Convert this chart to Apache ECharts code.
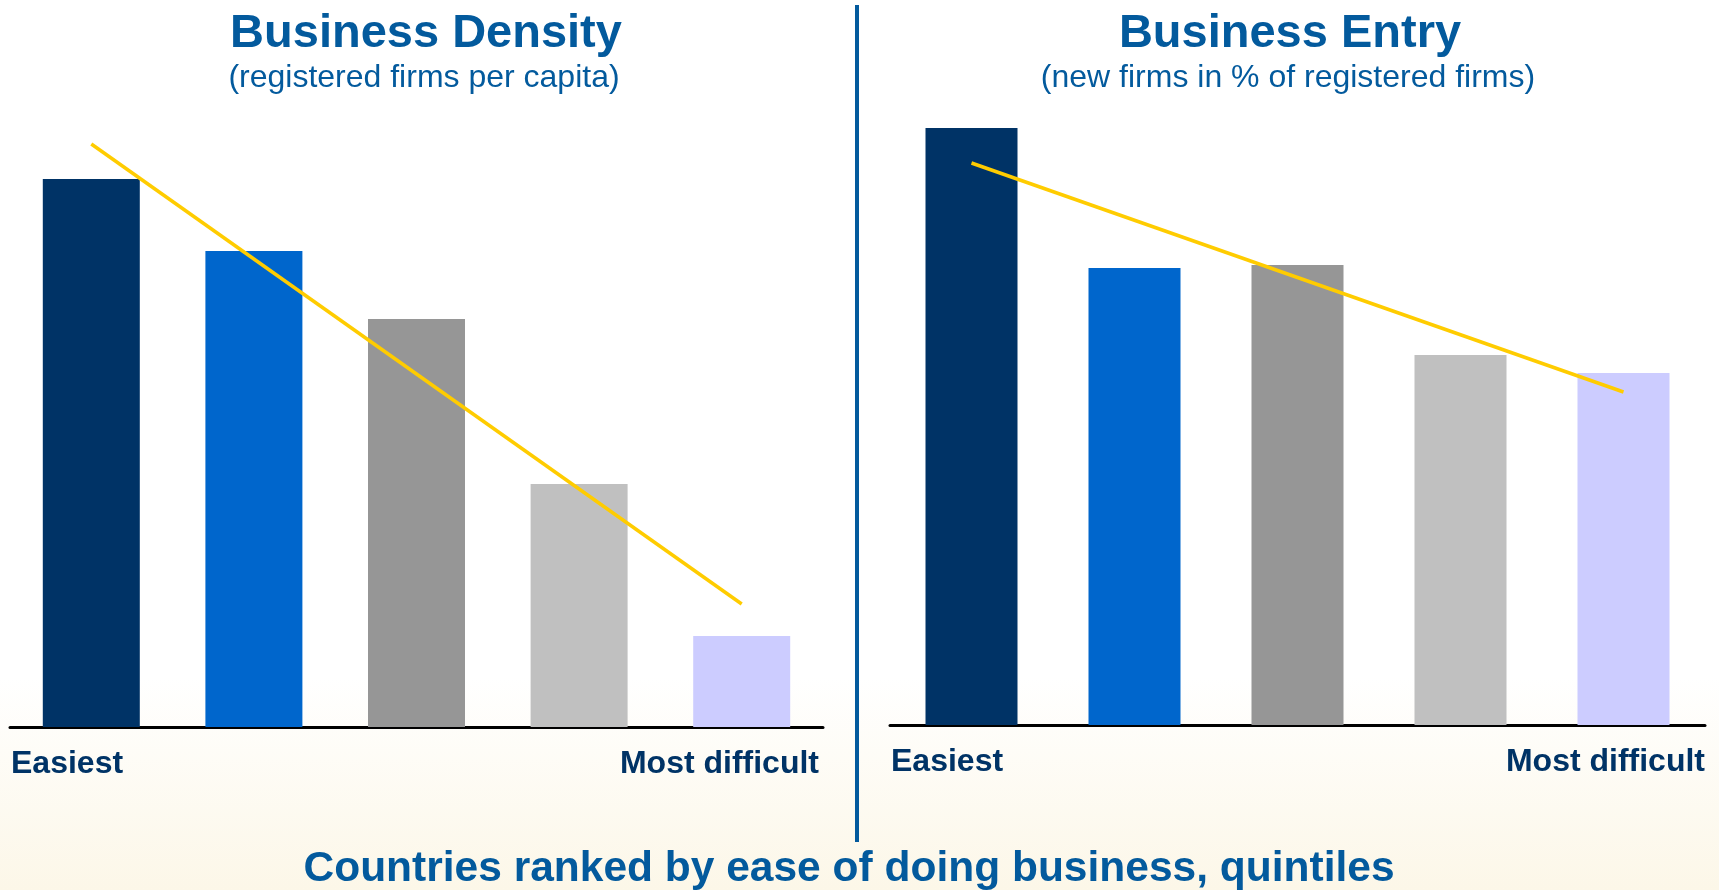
<!DOCTYPE html>
<html>
<head>
<meta charset="utf-8">
<script src="https://cdn.jsdelivr.net/npm/echarts@6/dist/echarts.min.js"></script>
<style>
html,body{margin:0;padding:0;width:1719px;height:890px;overflow:hidden;background:#fff;}
#chart{width:1719px;height:890px;}
</style>
</head>
<body>
<div id="chart"></div>
<script>
// ---- Data (relative index values) ----
const categories = ['Q1', 'Q2', 'Q3', 'Q4', 'Q5'];
const endLabels = ['Easiest', 'Most difficult'];
const densityValues = [548, 476, 408, 243, 91];
const densityTrend = [583, null, null, null, 123];
const entryValues = [597, 457, 460, 370, 352];
const entryTrend = [562, null, null, null, 333];
const barColors = ['#003366', '#0066CC', '#969696', '#C0C0C0', '#CCCCFF'];
const titles = ['Business Density', 'Business Entry'];
const subtitles = ['(registered firms per capita)', '(new firms in % of registered firms)'];
const bottomTitle = 'Countries ranked by ease of doing business, quintiles';

const FONT = '"Liberation Sans", Arial, sans-serif';
const BLUE = '#035A9D';
const NAVY = '#003366';

const chart = echarts.init(document.getElementById('chart'), null, {renderer: 'canvas'});

function mainXAxis(gridIndex) {
  return {
    type: 'category', gridIndex: gridIndex, position: 'bottom', data: categories,
    boundaryGap: true,
    axisLine: {show: true, lineStyle: {color: '#000', width: 3}},
    axisTick: {show: false}, axisLabel: {show: false}, splitLine: {show: false}
  };
}
function labelXAxis(gridIndex, rightPad) {
  return {
    type: 'category', gridIndex: gridIndex, position: 'bottom', boundaryGap: false,
    data: [
      {value: endLabels[0], textStyle: {align: 'left', padding: [0, 0, 0, 1]}},
      {value: endLabels[1], textStyle: {align: 'right', padding: [0, rightPad, 0, 0]}}
    ],
    axisLine: {show: false}, axisTick: {show: false}, splitLine: {show: false},
    axisLabel: {
      show: true, interval: 0, margin: 21, color: NAVY, fontSize: 32,
      fontWeight: 'bold', fontFamily: FONT, showMinLabel: true, showMaxLabel: true
    }
  };
}
function yAxis(gridIndex) {
  return {type: 'value', gridIndex: gridIndex, min: 0, max: 600, show: false, splitLine: {show: false}};
}
function barSeries(xi, yi, vals, width) {
  return {
    type: 'bar', xAxisIndex: xi, yAxisIndex: yi, data: vals, barWidth: width,
    itemStyle: {color: function (p) { return barColors[p.dataIndex]; }},
    animation: false
  };
}
function trendSeries(xi, yi, vals) {
  return {
    type: 'line', xAxisIndex: xi, yAxisIndex: yi, data: vals, connectNulls: true,
    symbol: 'none', lineStyle: {color: '#FFCC00', width: 3.5}, z: 5, animation: false
  };
}

const option = {
  animation: false,
  backgroundColor: new echarts.graphic.LinearGradient(0, 0, 0, 1, [
    {offset: 0, color: '#FFFFFF'},
    {offset: 0.76, color: '#FFFFFF'},
    {offset: 1, color: '#FCF7E8'}
  ]),
  title: [
    {text: titles[0], left: 426, top: 11, padding: 0, textAlign: 'center',
     textStyle: {color: BLUE, fontSize: 47, fontWeight: 'bold', fontFamily: FONT}},
    {text: subtitles[0], left: 424, top: 62, padding: 0, textAlign: 'center',
     textStyle: {color: BLUE, fontSize: 32, fontWeight: 'normal', fontFamily: FONT}},
    {text: titles[1], left: 1290, top: 11, padding: 0, textAlign: 'center',
     textStyle: {color: BLUE, fontSize: 47, fontWeight: 'bold', fontFamily: FONT}},
    {text: subtitles[1], left: 1288, top: 62, padding: 0, textAlign: 'center',
     textStyle: {color: BLUE, fontSize: 32, fontWeight: 'normal', fontFamily: FONT}},
    {text: bottomTitle, left: 849, top: 848, padding: 0, textAlign: 'center',
     textStyle: {color: BLUE, fontSize: 42.5, fontWeight: 'bold', fontFamily: FONT}}
  ],
  grid: [
    {left: 10, width: 813, top: 127, height: 600},
    {left: 890, width: 815, top: 125, height: 600}
  ],
  xAxis: [mainXAxis(0), labelXAxis(0, 4), mainXAxis(1), labelXAxis(1, 0)],
  yAxis: [yAxis(0), yAxis(1)],
  series: [
    barSeries(0, 0, densityValues, 97),
    trendSeries(0, 0, densityTrend),
    barSeries(2, 1, entryValues, 92),
    trendSeries(2, 1, entryTrend)
  ],
  graphic: [
    {type: 'line', shape: {x1: 857, y1: 5, x2: 857, y2: 842},
     style: {stroke: BLUE, lineWidth: 4}, silent: true}
  ]
};
chart.setOption(option);
</script>
</body>
</html>
